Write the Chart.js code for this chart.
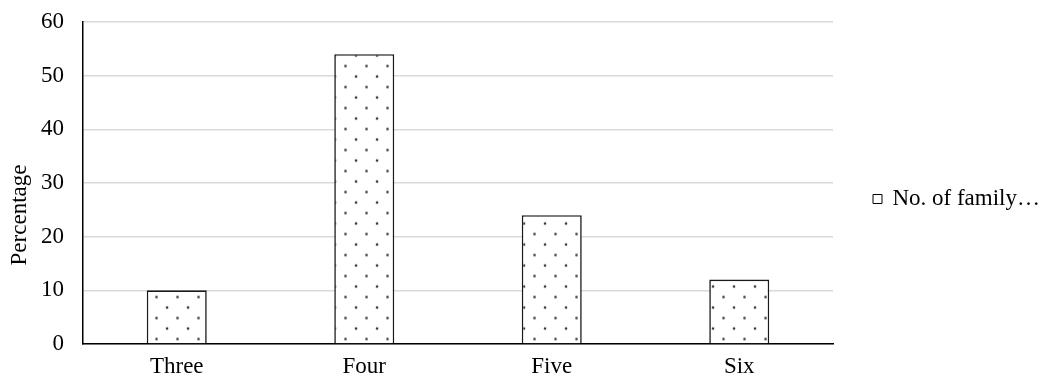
<!DOCTYPE html>
<html>
<head>
<meta charset="utf-8">
<script src="https://cdn.jsdelivr.net/npm/chart.js@4/dist/chart.umd.min.js"></script>
<style>
  html, body { margin: 0; padding: 0; background: #ffffff; }
  #wrap { width: 1041px; height: 380px; }
</style>
</head>
<body>
<div id="wrap"><canvas id="c" width="1041" height="380"></canvas></div>
<script>
// Family size categories and share of respondents (%)
const categories = ['Three', 'Four', 'Five', 'Six'];
const familyShare = [10, 54, 24, 12];
const seriesLabel = 'No. of family…';
const yTicks = [0, 10, 20, 30, 40, 50, 60];

// Dotted fill: staggered dots on a white ground
function makeDotPattern(ctx) {
  const tile = document.createElement('canvas');
  tile.width = 21;
  tile.height = 21;
  const t = tile.getContext('2d');
  t.fillStyle = '#ffffff';
  t.fillRect(0, 0, 21, 21);
  t.fillStyle = '#333333';
  t.beginPath(); t.arc(5, 5, 1.3, 0, Math.PI * 2); t.fill();
  t.beginPath(); t.arc(15.5, 15.5, 1.3, 0, Math.PI * 2); t.fill();
  const p = ctx.createPattern(tile, 'repeat');
  p.setTransform(new DOMMatrix().translate(15, 8.5));
  return p;
}

// Fixed-width legend column on the right, nudged into place after layout;
// the y-axis title sits a little below the middle of the axis.
const layoutTweaks = {
  id: 'layoutTweaks',
  afterInit(chart) {
    const legend = chart.legend;
    const fit = legend.fit;
    legend.fit = function () {
      fit.call(this);
      this.width = 208;
    };
  },
  afterLayout(chart) {
    const legend = chart.legend;
    const dx = 30, dy = 6;
    legend.left += dx; legend.right += dx - 31;
    legend.top += dy; legend.bottom += dy;

    const y = chart.scales.y;
    if (y && !y._titleShifted) {
      const drawTitle = y.drawTitle;
      y.drawTitle = function () {
        const ctx = this.ctx;
        ctx.save();
        ctx.translate(0, 32);
        drawTitle.call(this);
        ctx.restore();
      };
      y._titleShifted = true;
    }
  }
};

const serif = "'Liberation Serif', 'Times New Roman', serif";
Chart.defaults.font.family = serif;
Chart.defaults.color = '#000000';

const canvas = document.getElementById('c');
new Chart(canvas, {
  type: 'bar',
  data: {
    labels: categories,
    datasets: [{
      label: seriesLabel,
      data: familyShare,
      backgroundColor: makeDotPattern(canvas.getContext('2d')),
      borderColor: '#1a1a1a',
      borderWidth: 1.6,
      barPercentage: 0.32,
      categoryPercentage: 1.0
    }]
  },
  plugins: [layoutTweaks],
  options: {
    responsive: false,
    animation: false,
    layout: { padding: { top: 6, right: 0, left: 4, bottom: 0 } },
    plugins: {
      tooltip: { enabled: false },
      legend: {
        position: 'right',
        labels: {
          font: { size: 23, family: serif },
          boxWidth: 9,
          boxHeight: 9,
          padding: 10,
          textAlign: 'right',
          generateLabels: () => [{
            text: seriesLabel,
            fillStyle: '#ffffff',
            strokeStyle: '#000000',
            lineWidth: 1,
            datasetIndex: 0
          }]
        }
      }
    },
    scales: {
      x: {
        afterFit: (axis) => { axis.height = 36; },
        grid: { display: false, drawTicks: false },
        border: { color: '#000000', width: 1.5 },
        ticks: { font: { size: 23 }, padding: 9 }
      },
      y: {
        min: 0,
        max: 60,
        afterBuildTicks: (axis) => { axis.ticks = yTicks.map(v => ({ value: v })); },
        afterFit: (axis) => {
          axis.width = 79;
          axis.paddingTop = 22;
          axis.paddingBottom = 0;
        },
        grid: { color: '#d9d9d9', lineWidth: 1.5, drawTicks: false },
        border: { color: '#000000', width: 1.5 },
        ticks: { font: { size: 23 }, padding: 19 },
        title: { display: true, text: 'Percentage', font: { size: 23 }, padding: { top: 2, bottom: 4 } }
      }
    }
  }
});
</script>
</body>
</html>
